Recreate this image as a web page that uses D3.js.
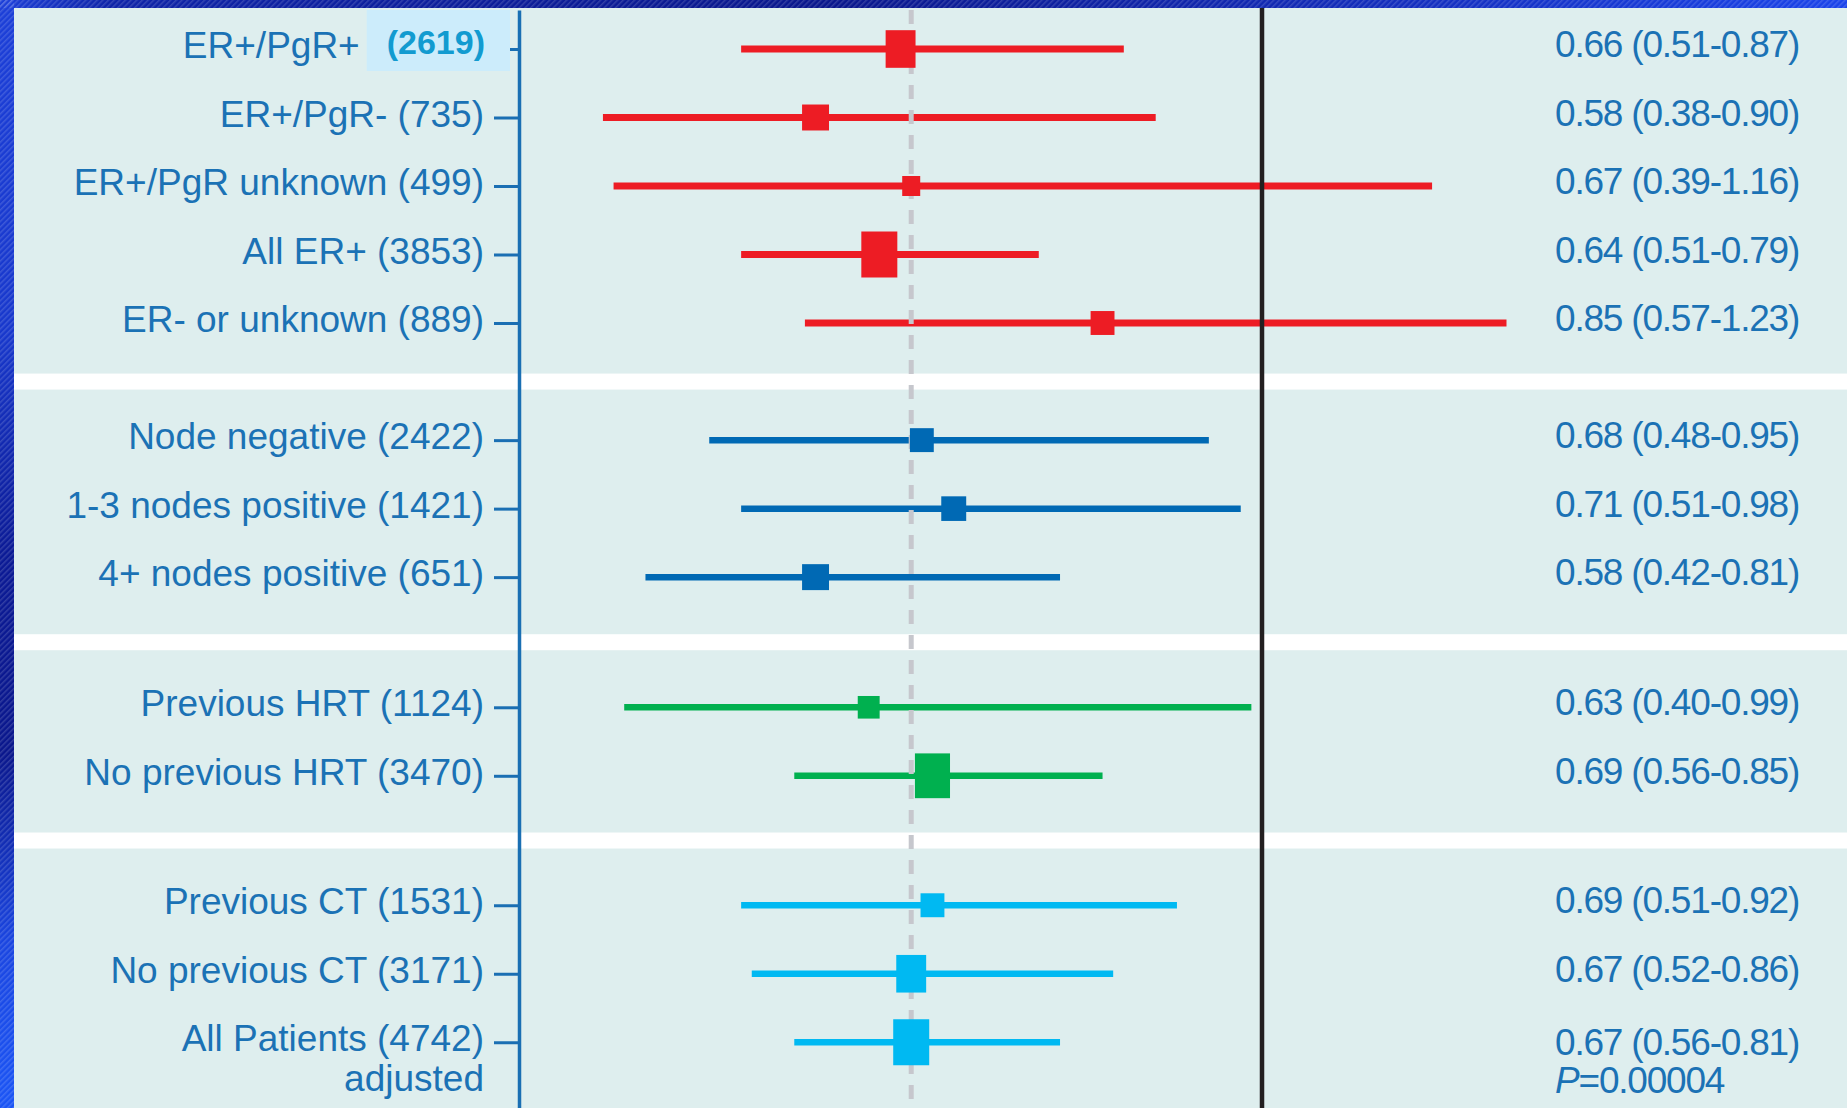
<!DOCTYPE html>
<html>
<head>
<meta charset="utf-8">
<script src="https://cdn.jsdelivr.net/npm/d3@7"></script>
<style>
  html, body { margin: 0; padding: 0; background: #ffffff; overflow: hidden; }
  svg { display: block; }
</style>
</head>
<body>
<svg id="chart" width="1847" height="1108"></svg>
<script>
// ---- Subgroup hazard ratios (95% CI) ----
const categories = [
  "ER+/PgR+", "ER+/PgR-", "ER+/PgR unknown", "All ER+", "ER- or unknown",
  "Node negative", "1-3 nodes positive", "4+ nodes positive",
  "Previous HRT", "No previous HRT",
  "Previous CT", "No previous CT", "All Patients"
];
const patients    = [2619, 735, 499, 3853, 889, 2422, 1421, 651, 1124, 3470, 1531, 3171, 4742];
const groupIndex  = [0, 0, 0, 0, 0, 1, 1, 1, 2, 2, 3, 3, 3];
const hazardRatio = [0.66, 0.58, 0.67, 0.64, 0.85, 0.68, 0.71, 0.58, 0.63, 0.69, 0.69, 0.67, 0.67];
const ciLower     = [0.51, 0.38, 0.39, 0.51, 0.57, 0.48, 0.51, 0.42, 0.40, 0.56, 0.51, 0.52, 0.56];
const ciUpper     = [0.87, 0.90, 1.16, 0.79, 1.23, 0.95, 0.98, 0.81, 0.99, 0.85, 0.92, 0.86, 0.81];
// relative statistical weight of each estimate (largest = 100)
const weights     = [69, 56, 25, 100, 44, 44, 48, 56, 37, 95, 44, 69, 100];
const highlighted = "ER+/PgR+";
const overallNote = "adjusted";
const overallP    = "0.00004";
const nullValue   = 1;

// ---- Styling ----
const groupColors = ["#ED1C24", "#0069B4", "#00B04F", "#00B9F2"];
const W = 1847, H = 1108;
const borderLeft = 14, borderTop = 8;
const panelFill = "#DEEEEE";
const textBlue = "#1B72B5";

function hasFont(name) {
  const ctx = document.createElement("canvas").getContext("2d");
  const s = "ER+/PgR unknown (499) 0123456789";
  ctx.font = "40px monospace";
  const a = ctx.measureText(s).width;
  ctx.font = `40px '${name}', monospace`;
  const b = ctx.measureText(s).width;
  return Math.abs(a - b) > 1;
}
const narrow = hasFont("Liberation Sans Narrow");
const labelFont = narrow ? "'Liberation Sans Narrow', 'Liberation Sans', sans-serif" : "'Liberation Sans', Arial, sans-serif";
const labelSize = narrow ? 38 : 37;
const labelSpacing = narrow ? 3 : 0;
const valueSpacing = narrow ? 1.5 : -1.2;

const rows = categories.map((name, i) => ({
  name, n: patients[i], group: groupIndex[i],
  hr: hazardRatio[i], lo: ciLower[i], hi: ciUpper[i], w: weights[i]
}));

// vertical layout: one slot per row, extra space between groups
const groupGapSlots = [0.71, 0.9, 0.89];
let extra = 0;
rows.forEach((r, i) => {
  if (i > 0 && r.group !== rows[i - 1].group) extra += groupGapSlots[rows[i - 1].group];
  r.slot = i + extra;
});
const y = d3.scaleLinear().domain([0, 1]).range([49, 117.5]);
const x = d3.scaleLinear().domain([0.5, 1]).range([730.5, 1262]);
const boxW = d3.scaleSqrt().domain([0, 100]).range([0, 36]);
const boxH = d3.scaleLinear().domain([18, 27, 30, 36]).range([20, 26, 38, 46]);

const svg = d3.select("#chart");
const defs = svg.append("defs");

// frame gradients + fine hatching
const gTop = defs.append("linearGradient").attr("id", "gTop")
  .attr("x1", 0).attr("x2", 1).attr("y1", 0).attr("y2", 0);
[[0, "#1c3fd8"], [0.06, "#0f24a8"], [0.45, "#0a178c"], [0.8, "#1531c4"], [1, "#1b44ea"]]
  .forEach(([o, c]) => gTop.append("stop").attr("offset", o).attr("stop-color", c));
const gLeft = defs.append("linearGradient").attr("id", "gLeft")
  .attr("x1", 0).attr("x2", 0).attr("y1", 0).attr("y2", 1);
[[0, "#1c3fd8"], [0.3, "#1838cc"], [0.5, "#0b1a95"], [0.68, "#0a178c"], [0.85, "#1a45e0"], [1, "#1b55f5"]]
  .forEach(([o, c]) => gLeft.append("stop").attr("offset", o).attr("stop-color", c));
const hatch = defs.append("pattern").attr("id", "hatch")
  .attr("width", 4).attr("height", 4).attr("patternUnits", "userSpaceOnUse")
  .attr("patternTransform", "rotate(45)");
hatch.append("rect").attr("width", 1.5).attr("height", 4).attr("fill", "rgba(255,255,255,0.16)");

svg.append("rect").attr("x", 0).attr("y", 0).attr("width", W).attr("height", borderTop).attr("fill", "url(#gTop)");
svg.append("rect").attr("x", 0).attr("y", 0).attr("width", borderLeft).attr("height", H).attr("fill", "url(#gLeft)");
svg.append("rect").attr("x", 0).attr("y", 0).attr("width", W).attr("height", borderTop).attr("fill", "url(#hatch)");
svg.append("rect").attr("x", 0).attr("y", 0).attr("width", borderLeft).attr("height", H).attr("fill", "url(#hatch)");

// panel
svg.append("rect").attr("x", borderLeft).attr("y", borderTop)
  .attr("width", W - borderLeft).attr("height", H - borderTop).attr("fill", panelFill);

// white separators between groups
const seps = [];
rows.forEach((r, i) => {
  if (i > 0 && r.group !== rows[i - 1].group) {
    seps.push((y(rows[i - 1].slot) + y(r.slot)) / 2);
  }
});
svg.append("g").selectAll("rect").data(seps).join("rect")
  .attr("x", borderLeft).attr("width", W - borderLeft)
  .attr("y", d => d - 8).attr("height", 16).attr("fill", "#ffffff");

// confidence intervals
svg.append("g").selectAll("line").data(rows).join("line")
  .attr("x1", d => x(d.lo)).attr("x2", d => x(d.hi))
  .attr("y1", d => y(d.slot)).attr("y2", d => y(d.slot))
  .attr("stroke", d => groupColors[d.group])
  .attr("stroke-width", d => d.group === 0 ? 7 : 6.5);

// overall estimate reference line
const overall = rows[rows.length - 1];
svg.append("line")
  .attr("x1", x(overall.hr)).attr("x2", x(overall.hr))
  .attr("y1", 10).attr("y2", H - 6)
  .attr("stroke", "#C6C7CD").attr("stroke-width", 5)
  .attr("stroke-dasharray", "14,11");

// point estimates
svg.append("g").selectAll("rect").data(rows).join("rect")
  .attr("x", d => x(d.hr) - boxW(d.w) / 2)
  .attr("y", d => y(d.slot) - boxH(boxW(d.w)) / 2)
  .attr("width", d => boxW(d.w))
  .attr("height", d => boxH(boxW(d.w)))
  .attr("fill", d => groupColors[d.group]);

// line of no effect
svg.append("line")
  .attr("x1", x(nullValue)).attr("x2", x(nullValue))
  .attr("y1", borderTop).attr("y2", H)
  .attr("stroke", "#231F20").attr("stroke-width", 4.5);

// category axis
const axisX = 519;
const yAxisScale = y.copy().domain([y.invert(10), y.invert(H)]).range([10, H]);
const axisG = svg.append("g").attr("transform", `translate(${axisX},0)`)
  .call(d3.axisLeft(yAxisScale)
    .tickValues(rows.map(r => r.slot))
    .tickSize(25).tickSizeOuter(0).tickFormat(""));
axisG.select(".domain").attr("stroke", "#1A6FB3").attr("stroke-width", 3.5);
axisG.selectAll(".tick line").attr("stroke", "#1A6FB3").attr("stroke-width", 3);

// left labels
const labelRight = 484;
const labelG = svg.append("g")
  .attr("font-family", labelFont).attr("font-size", labelSize)
  .attr("fill", textBlue).attr("letter-spacing", labelSpacing);

rows.forEach(r => {
  const base = y(r.slot) + 9;
  if (r.name === highlighted) {
    const hl = svg.append("rect").attr("fill", "#CCECFB");
    const bold = svg.append("text")
      .attr("x", labelRight + 1).attr("y", y(r.slot) + 5)
      .attr("text-anchor", "end")
      .attr("font-family", "'Liberation Sans', Arial, sans-serif")
      .attr("font-weight", "bold").attr("font-size", 34)
      .attr("fill", "#129BD0")
      .text(`(${r.n})`);
    const bw = bold.node().getComputedTextLength();
    const bStart = labelRight + 1 - bw;
    hl.attr("x", bStart - 20).attr("width", axisX - 9 - (bStart - 20))
      .attr("y", y(r.slot) - 39).attr("height", 61);
    labelG.append("text")
      .attr("x", bStart - 27).attr("y", base)
      .attr("text-anchor", "end").text(r.name);
  } else {
    labelG.append("text")
      .attr("x", labelRight).attr("y", base)
      .attr("text-anchor", "end").text(`${r.name} (${r.n})`);
  }
});
labelG.append("text")
  .attr("x", labelRight).attr("y", y(overall.slot) + 49)
  .attr("text-anchor", "end").text(overallNote);

// right-hand estimates
const fmt = d3.format(".2f");
const valueG = svg.append("g")
  .attr("font-family", labelFont).attr("font-size", labelSize)
  .attr("fill", textBlue).attr("letter-spacing", valueSpacing);
valueG.selectAll("text").data(rows).join("text")
  .attr("x", 1555).attr("y", d => y(d.slot) + (d === overall ? 13 : 8))
  .text(d => `${fmt(d.hr)} (${fmt(d.lo)}-${fmt(d.hi)})`);
const pText = valueG.append("text").attr("x", 1555).attr("y", y(overall.slot) + 51);
pText.append("tspan").attr("font-style", "italic").text("P");
pText.append("tspan").text("=" + overallP);
</script>
</body>
</html>
